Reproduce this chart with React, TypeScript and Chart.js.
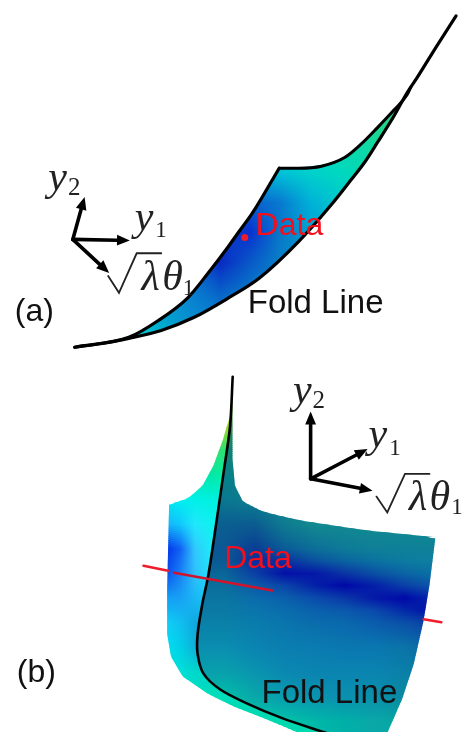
import React, { useEffect, useRef } from "react";
import { Chart, registerables } from "chart.js";

Chart.register(...registerables);

type P = [number, number];

// ---- panel (a) curves
const aFold: P[] = [[72,347],[100,343],[127,338],[160,330],[193,317],[227,298],[260,277],[300,240],[333,203],[353,178],[367,160],[380,140],[397,113],[410,90],[420,75],[440,43],[460,12]];
const aUpperLeft: P[] = [[72,347],[127,337],[157,320],[187,297],[207,273],[227,247],[237,233],[253,211],[280,166]];
const aUpperRight: P[] = [[280,166],[300,166],[323,164],[347,155],[363,142],[380,125],[397,107],[410,92],[414,84]];
const aSurfaceLeft: P[] = [[414,84],[410,92],[397,107],[380,125],[363,142],[347,155],[323,164],[280,166],[253,211],[237,233],[227,247],[207,273],[187,297],[157,320],[127,337]];
const aSurfaceRight: P[] = [[414,84],[410,90],[397,113],[380,140],[367,160],[353,178],[333,203],[300,240],[260,277],[227,298],[193,317],[160,330],[127,337]];
const aXs = [130,160,190,220,250,280,310,340,370,400,420];
const aYs = [80,110,140,170,200,230,260,290,320,350];
const aColors = [
  ["#00d8c8","#00d8c8","#00d8c8","#00d8c8","#00d8c8","#00d8c8","#10d8a0","#20d890","#30d080","#40d070","#50d060"],
  ["#00d8c8","#00d8c8","#00d8c8","#00d8c8","#00d8c8","#00d8c8","#10d8a8","#18d898","#20d488","#30d080","#40d070"],
  ["#00d8c8","#00d8c8","#00d8c8","#00d8c8","#00d8c8","#00d0d0","#00d8c0","#08d8b0","#10d8a0","#20d488","#30d080"],
  ["#00c8d8","#00c8d8","#00c8d8","#00c8d8","#00b0d8","#00c0d8","#00d0cc","#00d8c0","#08d8b0","#10d8a0","#20d488"],
  ["#0898d8","#0898d8","#0898d8","#0878d0","#0860d0","#0878d0","#00b0d8","#00c8cc","#00c8cc","#00c8cc","#00c8cc"],
  ["#0870d0","#0870d0","#0868d0","#0840c8","#0830d0","#0878c8","#00a0d0","#00b8d0","#00b8d0","#00b8d0","#00b8d0"],
  ["#0880d0","#0880d0","#0870cc","#0828c4","#0858c8","#0880c8","#0890c8","#0890c8","#0890c8","#0890c8","#0890c8"],
  ["#08a0d0","#0898d0","#0880d0","#0860c8","#0878c8","#0888c8","#0888c8","#0888c8","#0888c8","#0888c8","#0888c8"],
  ["#00c8d0","#00a8d0","#0890d0","#0888d0","#0888d0","#0888d0","#0888d0","#0888d0","#0888d0","#0888d0","#0888d0"],
  ["#00d8c8","#00c8d0","#00b0d0","#00a0d0","#00a0d0","#00a0d0","#00a0d0","#00a0d0","#00a0d0","#00a0d0","#00a0d0"],
];

// ---- panel (b) curves
const bFold: P[] = [[232.7,377],[230,427],[224,470],[216.7,520],[208,577],[201.7,607],[197,637],[197,657],[203,677],[220,693],[247,707],[283,722],[328,737]];
const bLeftEdge: P[] = [[232.7,378],[230,417],[226.7,427],[223,440],[213,467],[202,487],[187,500],[168,506],[166,593],[166,637],[170,660],[182,680],[207,697],[233,710],[267,723],[300,737]];
const bRightEdge: P[] = [[232.7,378],[232.5,393],[232.5,460],[235,487],[243,503],[263,513],[300,522],[367,532],[439,539],[433,587],[427,623],[417,667],[405,703],[390,737]];
const bLeftXs = [165,180,195,210,232];
const bLeftYs = [375,400,425,450,475,500,525,550,575,600,625,650,675,700,725,750];
const bLeftColors = [
  ["#c8d008","#c8d008","#c8d008","#c8d008","#c8d008"],
  ["#b8d810","#b8d810","#b8d810","#b8d810","#b8d810"],
  ["#a0d820","#a0d820","#a0d820","#a0d820","#a0d820"],
  ["#30e070","#30e070","#30e070","#30e070","#30e070"],
  ["#00e8a8","#00e8a8","#00e8a8","#00e8a8","#10f0a0"],
  ["#00eaf0","#00f0f0","#00f0e8","#00f0e0","#00f0e0"],
  ["#1ab0f8","#10c8fc","#20e8fc","#10f0f0","#10f0f0"],
  ["#0030e8","#1060f4","#30c8fc","#20e8f8","#20e8f8"],
  ["#0848ec","#1880f4","#30c0fc","#20e0f8","#20e0f8"],
  ["#10a0f4","#18a0f4","#18b8f4","#18c8f4","#18c8f4"],
  ["#10d0f8","#10c0f0","#10a8e0","#10a8e0","#10a8e0"],
  ["#00e0f0","#00d0e8","#10b0d8","#10b0d8","#10b0d8"],
  ["#00e0d8","#00e0d8","#00d8cc","#00d0c8","#00d0c8"],
  ["#00e0c0","#00e0c0","#00e0c0","#00e0b8","#00dcb8"],
  ["#00d8b0","#00d8b0","#00d8b0","#00d8b0","#00d8b0"],
  ["#00d8b0","#00d8b0","#00d8b0","#00d8b0","#00d8b0"],
];
const bRightXs = [195,225,255,285,315,345,375,405,440];
const bRightYs = [375,400,425,450,475,500,525,550,562,575,587,600,612,625,650,675,700,725,750];
const bRightColors = [
  ["#a0b000","#a0b000","#a0b000","#a0b000","#a0b000","#a0b000","#a0b000","#a0b000","#a0b000"],
  ["#70a020","#70a020","#70a020","#70a020","#70a020","#70a020","#70a020","#70a020","#70a020"],
  ["#309050","#309050","#309050","#309050","#309050","#309050","#309050","#309050","#309050"],
  ["#108070","#108070","#108070","#108070","#108070","#108070","#108070","#108070","#108070"],
  ["#088088","#088088","#088088","#088088","#088088","#088088","#088088","#088088","#088088"],
  ["#0a7890","#0a7890","#0c8090","#128a90","#128a90","#128a90","#128a90","#128a90","#128a90"],
  ["#0a5e90","#0a5e90","#0b5c90","#0e7c90","#128a90","#128a90","#128a90","#128a90","#128a90"],
  ["#0b5894","#0b5894","#0a3c94","#0a5c98","#0c6e98","#0e7a98","#0e8098","#0e8098","#0e8098"],
  ["#0a5a94","#0a5a94","#0a2a9c","#0a30a0","#0a50a0","#0a64a0","#0a72a0","#0c7ca0","#0e80a0"],
  ["#0a6698","#0a6698","#0a40a4","#0410a8","#0418a8","#0a34a4","#0a50a4","#0a64a4","#0a74a4"],
  ["#0a6e9c","#0a6e9c","#0a5aa8","#0a44a8","#0420a8","#0008a8","#0420a8","#0a40a8","#0a5ca8"],
  ["#0a74a0","#0a74a0","#0a6cac","#0a60ac","#0a4cac","#0a38a8","#0418a8","#0008a8","#0430ac"],
  ["#0a7aa4","#0a7aa4","#0a74ac","#0a6cac","#0a60ac","#0a58ac","#0a48ac","#0428a8","#0008a8"],
  ["#0a80a8","#0a80a8","#0a7cac","#0a74ac","#0a6cac","#0a68ac","#0a5cac","#0a50a8","#0a38a8"],
  ["#0a8eb0","#0a8eb0","#0a84b0","#0a7eb0","#0a7cb0","#0a78b0","#0a78b0","#0a74a8","#0a64a4"],
  ["#08a0ac","#08a0ac","#0a94b0","#0a88b0","#0a84b0","#0a84b0","#0a84b0","#0a80a8","#0a78a0"],
  ["#00c0a8","#00c0a8","#08a8a8","#0a9cb0","#0a94b0","#0a90b0","#0a90ac","#0a88a0","#0a88a0"],
  ["#00c8a8","#00c8a8","#00c8a8","#00c4a8","#00b8a8","#00b0a8","#0aa8a8","#00a8a0","#00a8a0"],
  ["#00c8a8","#00c8a8","#00c8a8","#00c4a8","#00b8a8","#00b0a8","#0aa8a8","#00a8a0","#00a8a0"],
];

// ---- annotations
const redLines: { pts: P[]; color: string }[] = [
  { pts: [[142,568],[167,573]], color: "#ee1c2c" },
  { pts: [[173,575],[273,593]], color: "#d0142c" },
  { pts: [[427,622],[445,625]], color: "#ee1c2c" },
];
const dataDot: P[] = [[245,236]];
const arrows: [P, P][] = [
  [[70,238],[82,195]],
  [[70,238],[128,239]],
  [[70,238],[107,272]],
  [[312,480],[312,412]],
  [[312,480],[370,450]],
  [[312,480],[375,492]],
];
const radicals: P[][] = [
  [[106,275],[117,292],[135,252],[160,252]],
  [[379,498],[390,514],[408,475],[433,475]],
];
const sans = '"Liberation Sans", Arial, sans-serif';
const serif = '"Liberation Serif", "DejaVu Serif", serif';
const labels: { t: string; x: number; y: number; font: string; color: string }[] = [
  { t: "(a)", x: 11, y: 320, font: `32px ${sans}`, color: "#111" },
  { t: "(b)", x: 13, y: 685, font: `32px ${sans}`, color: "#111" },
  { t: "Data", x: 256, y: 234, font: `32px ${sans}`, color: "#f0101e" },
  { t: "Data", x: 224, y: 570, font: `32px ${sans}`, color: "#f0101e" },
  { t: "Fold Line", x: 248, y: 312, font: `33px ${sans}`, color: "#111" },
  { t: "Fold Line", x: 262, y: 707, font: `33px ${sans}`, color: "#111" },
  { t: "y", x: 45, y: 188, font: `italic 42px ${serif}`, color: "#222" },
  { t: "2", x: 65, y: 193, font: `25px ${serif}`, color: "#222" },
  { t: "y", x: 133, y: 228, font: `italic 42px ${serif}`, color: "#222" },
  { t: "1", x: 154, y: 236, font: `23px ${serif}`, color: "#222" },
  { t: "λ", x: 140, y: 289, font: `italic 42px ${serif}`, color: "#222" },
  { t: "θ", x: 161, y: 289, font: `italic 42px ${serif}`, color: "#222" },
  { t: "1", x: 182, y: 294, font: `23px ${serif}`, color: "#222" },
  { t: "y", x: 294, y: 403, font: `italic 42px ${serif}`, color: "#222" },
  { t: "2", x: 314, y: 408, font: `25px ${serif}`, color: "#222" },
  { t: "y", x: 371, y: 448, font: `italic 42px ${serif}`, color: "#222" },
  { t: "1", x: 392, y: 456, font: `23px ${serif}`, color: "#222" },
  { t: "λ", x: 412, y: 512, font: `italic 42px ${serif}`, color: "#222" },
  { t: "θ", x: 433, y: 512, font: `italic 42px ${serif}`, color: "#222" },
  { t: "1", x: 455, y: 516, font: `23px ${serif}`, color: "#222" },
];

const hex = (c: string) => [1, 3, 5].map((i) => parseInt(c.slice(i, i + 2), 16));
const rgb = (c: number[]) => `rgb(${c.map((v) => Math.round(v)).join(",")})`;

function along(edge: P[], y: number): number {
  for (let i = 0; i < edge.length - 1; i++) {
    const [x0, y0] = edge[i];
    const [x1, y1] = edge[i + 1];
    if (y >= Math.min(y0, y1) && y <= Math.max(y0, y1)) {
      if (y1 === y0) return x1;
      return x0 + ((y - y0) / (y1 - y0)) * (x1 - x0);
    }
  }
  return edge[edge.length - 1][0];
}

function rowAt(ys: number[], table: string[][], y: number): number[][] {
  let k = 0;
  while (k < ys.length - 2 && y > ys[k + 1]) k++;
  const t = Math.min(1, Math.max(0, (y - ys[k]) / (ys[k + 1] - ys[k])));
  return table[k].map((c, i) => {
    const a = hex(c);
    const b = hex(table[k + 1][i]);
    return a.map((v, j) => v + (b[j] - v) * t);
  });
}

function strips(
  ctx: CanvasRenderingContext2D,
  left: P[],
  right: P[],
  xs: number[],
  ys: number[],
  table: string[][],
  yStart: number,
  yEnd: number,
) {
  const out: any[] = [];
  const step = 2;
  for (let y = yStart; y < yEnd; y += step) {
    const y2 = Math.min(yEnd, y + step + 0.8);
    const row = rowAt(ys, table, y + step / 2);
    const g = ctx.createLinearGradient(xs[0], 0, xs[xs.length - 1], 0);
    row.forEach((c, i) => g.addColorStop((xs[i] - xs[0]) / (xs[xs.length - 1] - xs[0]), rgb(c)));
    out.push({
      data: [
        { x: along(left, y), y },
        { x: along(right, y), y },
        { x: along(right, y2), y: y2 },
        { x: along(left, y2), y: y2 },
      ],
      showLine: true,
      fill: "shape",
      backgroundColor: g,
      borderWidth: 0,
      pointRadius: 0,
      tension: 0,
    });
  }
  return out;
}

const toXY = (pts: P[]) => pts.map(([x, y]) => ({ x, y }));

function lineSet(pts: P[], color: string, width: number, tension = 0, mono = false) {
  return {
    data: toXY(pts),
    showLine: true,
    fill: false,
    borderColor: color,
    borderWidth: width,
    pointRadius: 0,
    tension,
    cubicInterpolationMode: mono ? "monotone" : "default",
    borderCapStyle: "round",
    borderJoinStyle: "miter",
  };
}

function arrowSets([from, to]: [P, P]) {
  const dx = to[0] - from[0];
  const dy = to[1] - from[1];
  const len = Math.hypot(dx, dy);
  const ux = dx / len;
  const uy = dy / len;
  const L = 13;
  const W = 5.5;
  const bx = to[0] - ux * L;
  const by = to[1] - uy * L;
  const head: P[] = [to, [bx - uy * W, by + ux * W], [bx + uy * W, by - ux * W]];
  return [
    { data: toXY(head), showLine: true, fill: "shape", backgroundColor: "#000", borderWidth: 0, pointRadius: 0, tension: 0 },
    lineSet([from, [bx, by]], "#000", 3.6),
  ];
}

const textPlugin = {
  id: "plainText",
  afterDatasetsDraw(chart: any) {
    const { ctx, scales } = chart;
    ctx.save();
    ctx.textBaseline = "alphabetic";
    for (const l of labels) {
      ctx.font = l.font;
      ctx.fillStyle = l.color;
      ctx.fillText(l.t, scales.x.getPixelForValue(l.x), scales.y.getPixelForValue(l.y));
    }
    ctx.restore();
  },
};

export default function App() {
  const ref = useRef<HTMLCanvasElement>(null);
  useEffect(() => {
    const canvas = ref.current!;
    const ctx = canvas.getContext("2d")!;
    const datasets: any[] = [
      { data: toXY(dataDot), pointRadius: 3.5, backgroundColor: "#ee1c2c", borderWidth: 0, showLine: false },
      ...redLines.map((r) => lineSet(r.pts, r.color, 2.6)),
      ...arrows.flatMap(arrowSets),
      ...radicals.map((r) => lineSet(r, "#222", 1.8)),
      lineSet(aFold, "#000", 3.2, 0, true),
      lineSet(aUpperLeft, "#000", 3.2, 0, true),
      lineSet(aUpperRight, "#000", 3, 0, true),
      lineSet(bFold, "#000", 2.6, 0.3),
      ...strips(ctx, aSurfaceLeft, aSurfaceRight, aXs, aYs, aColors, 84, 337),
      ...strips(ctx, bLeftEdge, bFold, bLeftXs, bLeftYs, bLeftColors, 378, 736),
      ...strips(ctx, bFold, bRightEdge, bRightXs, bRightYs, bRightColors, 378, 736),
    ];
    const chart = new Chart(canvas, {
      type: "scatter",
      data: { datasets },
      plugins: [textPlugin],
      options: {
        animation: false,
        responsive: false,
        events: [],
        layout: { padding: 0 },
        plugins: { legend: { display: false }, tooltip: { enabled: false }, title: { display: false } },
        scales: {
          x: { type: "linear", min: 0, max: 464, display: false },
          y: { type: "linear", min: 0, max: 736, reverse: true, display: false },
        },
      },
    } as any);
    return () => chart.destroy();
  }, []);
  return (
    <canvas
      ref={ref}
      width={464}
      height={736}
      style={{ position: "absolute", left: 0, top: 0, display: "block", width: 464, height: 736, filter: "blur(0.5px)" }}
    />
  );
}
